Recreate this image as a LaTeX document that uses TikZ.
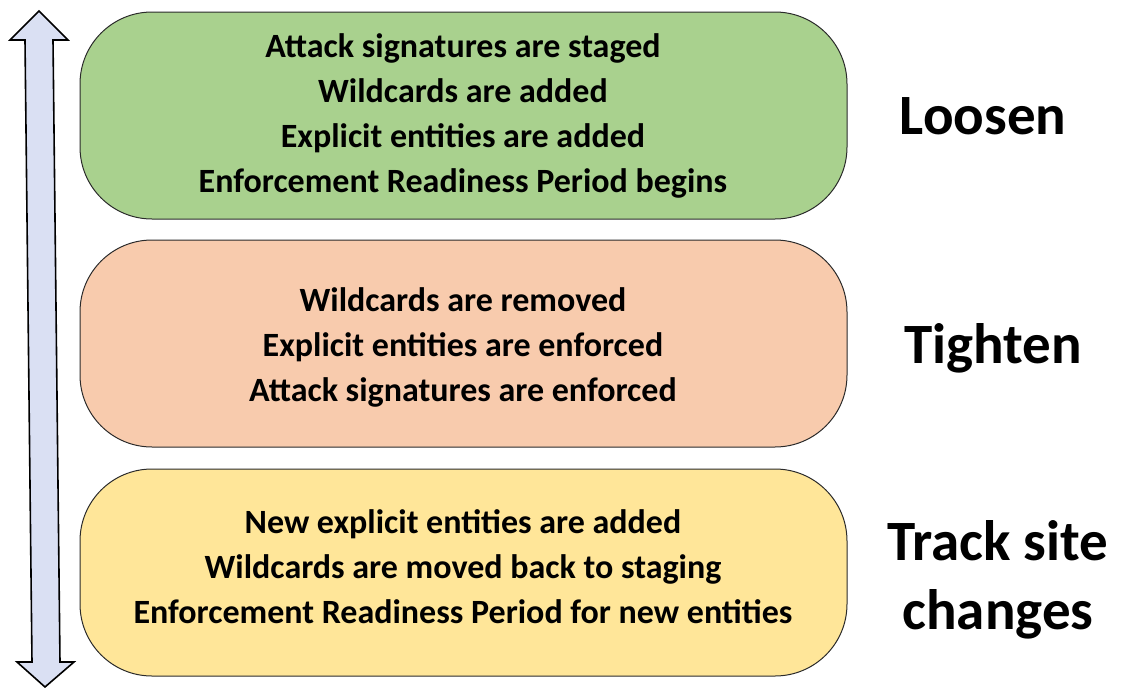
\documentclass[tikz,border=0pt]{standalone}
\usepackage{fontspec}
\setmainfont{Carlito}
\definecolor{loosenfill}{HTML}{A9D18E}
\definecolor{tightenfill}{HTML}{F8CBAD}
\definecolor{trackfill}{HTML}{FFE699}
\definecolor{arrowfill}{HTML}{DAE0F3}
\definecolor{edge}{HTML}{2B2B2B}
\begin{document}
\begin{tikzpicture}[x=1pt,y=-1pt,
  phase/.style={draw=edge, line width=1pt, rounded corners=72pt},
  steps/.style={align=center, font=\bfseries\fontsize{34}{45}\selectfont, text=black},
  stage/.style={align=center, font=\bfseries\fontsize{57}{69}\selectfont, text=black}]
  \useasboundingbox (0,0) rectangle (1125,688);

  % two-headed arrow on the left
  \filldraw[fill=arrowfill, draw=black, line width=1.6pt, line join=miter]
    (39,11) -- (68,40) -- (53,40) -- (60,662) -- (74,662) -- (45,687)
    -- (17,662) -- (32,662) -- (25,40) -- (10,40) -- cycle;

  % phase boxes
  \filldraw[phase, fill=loosenfill]  (80,12)  rectangle (847,219);
  \filldraw[phase, fill=tightenfill] (80,240) rectangle (847,447);
  \filldraw[phase, fill=trackfill]   (80,469) rectangle (847,676);

  \node[steps] (loosensteps) at (463,116) {Attack signatures are staged\\Wildcards are added\\Explicit entities are added\\Enforcement Readiness Period begins};
  \node[steps] (tightensteps) at (463,347) {Wildcards are removed\\Explicit entities are enforced\\Attack signatures are enforced};
  \node[steps] (tracksteps) at (463,567) {New explicit entities are added\\Wildcards are moved back to staging\\Enforcement Readiness Period for new entities};

  % stage names
  \node[stage] (loosen) at (983,116) {Loosen};
  \node[stage] (tighten) at (993,348) {Tighten};
  \node[stage] (track) at (998,580) {Track site\\changes};
\end{tikzpicture}
\end{document}
